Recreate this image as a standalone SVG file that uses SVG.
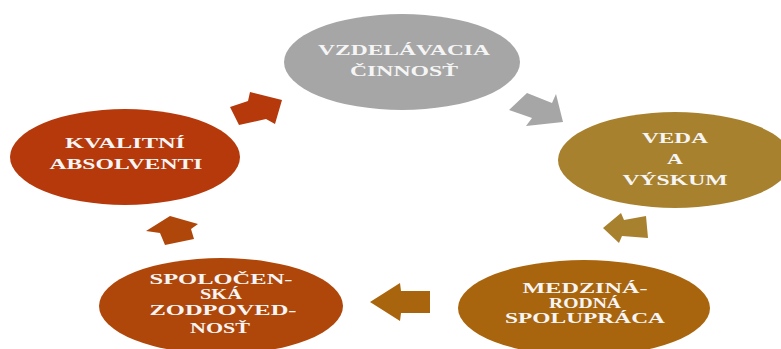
<svg xmlns="http://www.w3.org/2000/svg" width="781" height="349" viewBox="0 0 781 349">
  <style>
    .lbl { font-family: "Liberation Serif", "Times New Roman", serif; font-weight: bold; font-size: 15px; fill: #F5F5F5; text-anchor: middle; }
    .gray { fill: #A6A6A6; }
    .gold { fill: #A8812F; }
    .orange { fill: #A9650D; }
    .rust { fill: #B0470A; }
    .red { fill: #B5390B; }
  </style>
  <rect width="781" height="349" fill="#FFFFFF"/>
  <g id="connectors">
    <polygon class="red" points="230,107 248,101 250,92 282,100 275,124 266,119 239,125"/>
    <polygon class="gray" points="527,93 552,103 556,94 563,122 526,126 532,118 509,110"/>
    <polygon class="gold" points="646,216 624,220 621,213 603,228 619,243 622,236 648,238"/>
    <polygon class="orange" points="370,302 400,283 401,291 430,291 430,313 401,313 400,321"/>
    <polygon class="rust" points="170,216 198,224 191,229 194,239 165,245 160,233 146,231"/>
  </g>
  <g id="node-vzdelavacia">
    <ellipse class="gray" cx="402" cy="62" rx="118" ry="48"/>
    <text class="lbl" x="404" y="55" textLength="172" lengthAdjust="spacingAndGlyphs">VZDELÁVACIA</text>
    <text class="lbl" x="404" y="76" textLength="108" lengthAdjust="spacingAndGlyphs">ČINNOSŤ</text>
  </g>
  <g id="node-veda">
    <ellipse class="gold" cx="675" cy="160" rx="117" ry="48"/>
    <text class="lbl" x="675" y="143" textLength="66" lengthAdjust="spacingAndGlyphs">VEDA</text>
    <text class="lbl" x="675" y="164" textLength="16" lengthAdjust="spacingAndGlyphs">A</text>
    <text class="lbl" x="675" y="185" textLength="105" lengthAdjust="spacingAndGlyphs">VÝSKUM</text>
  </g>
  <g id="node-medzinarodna">
    <ellipse class="orange" cx="584" cy="308" rx="126" ry="48"/>
    <text class="lbl" x="585" y="293" textLength="125" lengthAdjust="spacingAndGlyphs">MEDZINÁ-</text>
    <text class="lbl" x="585" y="308" textLength="72" lengthAdjust="spacingAndGlyphs">RODNÁ</text>
    <text class="lbl" x="585" y="323" textLength="160" lengthAdjust="spacingAndGlyphs">SPOLUPRÁCA</text>
  </g>
  <g id="node-spolocenska">
    <ellipse class="rust" cx="221" cy="306" rx="122" ry="48"/>
    <text class="lbl" x="221" y="284" textLength="143" lengthAdjust="spacingAndGlyphs">SPOLOČEN-</text>
    <text class="lbl" x="221" y="299" textLength="42" lengthAdjust="spacingAndGlyphs">SKÁ</text>
    <text class="lbl" x="223" y="315" textLength="147" lengthAdjust="spacingAndGlyphs">ZODPOVED-</text>
    <text class="lbl" x="220" y="333" textLength="60" lengthAdjust="spacingAndGlyphs">NOSŤ</text>
  </g>
  <g id="node-kvalitni">
    <ellipse class="red" cx="125" cy="157" rx="115" ry="48"/>
    <text class="lbl" x="125" y="148" textLength="120" lengthAdjust="spacingAndGlyphs">KVALITNÍ</text>
    <text class="lbl" x="126" y="169" textLength="153" lengthAdjust="spacingAndGlyphs">ABSOLVENTI</text>
  </g>
</svg>
